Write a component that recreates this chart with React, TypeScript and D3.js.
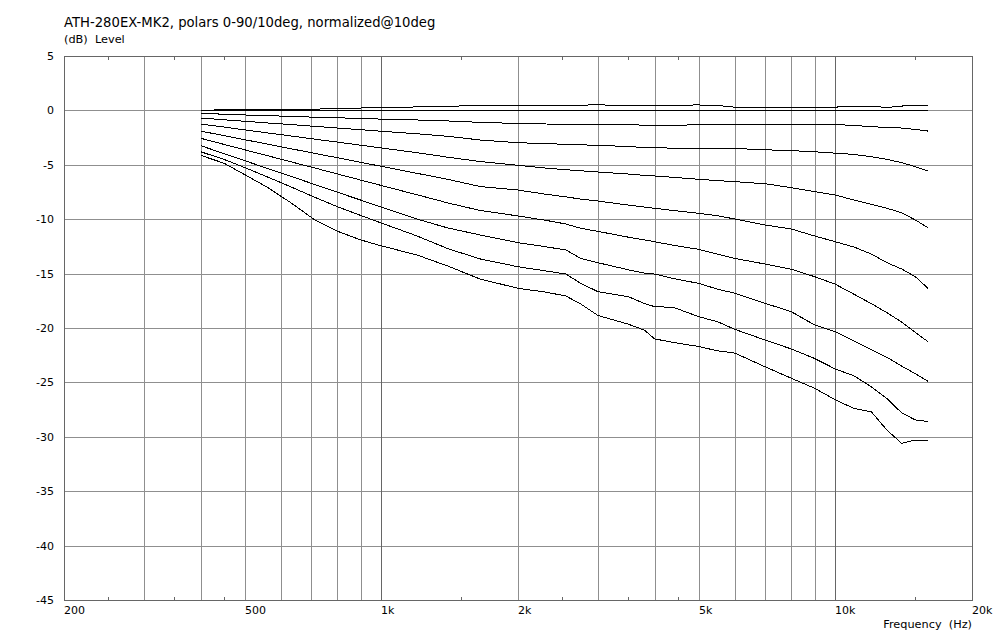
import React from 'react';
import * as d3 from 'd3';

// Frequencies (Hz) at which the curves were read
const freqs = [400, 450, 500, 560, 630, 710, 800, 900, 1000, 1200, 1400, 1650, 2000, 2300, 2550, 2750, 3000, 3500, 3800, 4000, 4400, 5000, 5500, 6000, 7000, 8000, 9000, 10000, 11000, 12000, 13000, 14000, 15000, 16000];

// Levels (dB) per polar angle, normalized at 10deg
const deg0 = [0.03, 0.04, 0.05, 0.06, 0.08, 0.1, 0.2, 0.22, 0.25, 0.32, 0.38, 0.45, 0.46, 0.47, 0.47, 0.48, 0.52, 0.42, 0.47, 0.47, 0.48, 0.5, 0.45, 0.3, 0.28, 0.28, 0.28, 0.3, 0.4, 0.4, 0.26, 0.4, 0.47, 0.47];
const deg10 = [0, 0, 0, 0, 0, 0, 0, 0, 0, 0, 0, 0, 0, 0, 0, 0, 0, 0, 0, 0, 0, 0, 0, 0, 0, 0, 0, 0, 0, 0, 0, 0, 0, 0];
const deg20 = [-0.27, -0.35, -0.42, -0.48, -0.55, -0.62, -0.68, -0.74, -0.8, -0.88, -0.97, -1.1, -1.2, -1.25, -1.28, -1.3, -1.3, -1.33, -1.35, -1.37, -1.37, -1.32, -1.28, -1.27, -1.27, -1.27, -1.28, -1.3, -1.38, -1.5, -1.56, -1.62, -1.75, -1.9];
const deg30 = [-0.7, -0.86, -1.0, -1.15, -1.3, -1.46, -1.62, -1.77, -1.92, -2.15, -2.38, -2.72, -2.97, -3.05, -3.12, -3.17, -3.2, -3.33, -3.4, -3.43, -3.47, -3.48, -3.49, -3.5, -3.62, -3.7, -3.8, -3.93, -4.05, -4.26, -4.5, -4.8, -5.17, -5.57];
const deg40 = [-1.25, -1.53, -1.79, -2.06, -2.34, -2.63, -2.91, -3.2, -3.45, -3.89, -4.3, -4.7, -5.05, -5.3, -5.45, -5.55, -5.66, -5.85, -5.97, -6.03, -6.15, -6.33, -6.45, -6.55, -6.74, -7.1, -7.47, -7.78, -8.24, -8.63, -9.0, -9.4, -10.07, -10.78];
const deg50 = [-1.9, -2.32, -2.69, -3.09, -3.51, -3.93, -4.35, -4.77, -5.14, -5.79, -6.33, -7.0, -7.32, -7.7, -7.95, -8.15, -8.33, -8.7, -8.88, -9.0, -9.2, -9.46, -9.68, -9.98, -10.53, -10.9, -11.54, -12.07, -12.56, -13.2, -14.0, -14.58, -15.28, -16.35];
const deg60 = [-2.56, -3.12, -3.62, -4.15, -4.71, -5.27, -5.84, -6.4, -6.9, -7.76, -8.5, -9.2, -9.7, -10.1, -10.44, -10.84, -11.12, -11.65, -11.9, -12.07, -12.4, -12.77, -13.2, -13.6, -14.12, -14.6, -15.28, -15.98, -16.9, -17.76, -18.6, -19.45, -20.4, -21.26];
const deg70 = [-3.24, -3.97, -4.62, -5.32, -6.04, -6.78, -7.52, -8.24, -8.89, -10.0, -10.8, -11.45, -12.16, -12.53, -12.83, -13.6, -14.0, -14.65, -14.95, -15.04, -15.45, -15.9, -16.43, -16.8, -17.73, -18.5, -19.72, -20.34, -21.2, -22.0, -22.7, -23.5, -24.2, -24.9];
const deg80 = [-3.8, -4.5, -5.25, -6.1, -7.0, -7.95, -8.85, -9.65, -10.35, -11.55, -12.7, -13.65, -14.37, -14.75, -15.04, -15.9, -16.66, -17.12, -17.75, -18.04, -18.1, -18.96, -19.42, -20.12, -21.1, -21.93, -22.8, -23.77, -24.4, -25.4, -26.5, -27.8, -28.45, -28.6];
const deg90 = [-4.13, -4.85, -5.9, -7.05, -8.45, -10.0, -11.1, -11.9, -12.45, -13.3, -14.3, -15.5, -16.35, -16.7, -17.06, -17.8, -18.85, -19.65, -20.2, -21.0, -21.33, -21.7, -22.1, -22.3, -23.56, -24.62, -25.54, -26.6, -27.4, -27.7, -29.4, -30.6, -30.3, -30.3];

const yTickValues = [5, 0, -5, -10, -15, -20, -25, -30, -35, -40, -45];
const xGridValues = [300, 400, 500, 600, 700, 800, 900, 1000, 2000, 3000, 4000, 5000, 6000, 7000, 8000, 9000, 10000];
const xDecadeValues = [1000, 10000];
const xMinorTicks = [250, 350, 450, 1500, 2500, 3500, 4500, 15000];
const xTickLabelValues = [200, 500, 1000, 2000, 5000, 10000, 20000];
const xTickLabels = ['200', '500', '1k', '2k', '5k', '10k', '20k'];

const titleText = 'ATH-280EX-MK2, polars 0-90/10deg, normalized@10deg';
const yAxisLabel = '(dB)  Level';
const xAxisLabel = 'Frequency  (Hz)';

export default function App() {
  const W = 995;
  const H = 635;
  const x = d3.scaleLog().domain([200, 20000]).range([64, 972]);
  const y = d3.scaleLinear().domain([-45, 5]).range([600, 56]);
  const px = (v: number) => Math.round(x(v)) + 0.5;
  const py = (v: number) => Math.round(y(v)) + 0.5;
  const series = [deg0, deg10, deg20, deg30, deg40, deg50, deg60, deg70, deg80, deg90];
  const line = d3
    .line<number>()
    .x((_d, i) => x(freqs[i]))
    .y((d) => y(d));
  const font = "'DejaVu Sans', Verdana, sans-serif";
  const gridColor = '#8f8f8f';
  const darkColor = '#666666';
  const top = py(5);
  const bottom = py(-45);
  const left = px(200);
  const right = px(20000);

  return (
    <svg
      width={W}
      height={H}
      viewBox={`0 0 ${W} ${H}`}
      style={{ position: 'absolute', left: 0, top: 0, background: '#fff' }}
    >
      <rect x={0} y={0} width={W} height={H} fill="#fff" />
      {/* horizontal grid */}
      <g shapeRendering="crispEdges">
        {yTickValues
          .filter((v) => v < 5 && v > -45)
          .map((v) => (
            <line key={'h' + v} x1={left} x2={right} y1={py(v)} y2={py(v)} stroke={gridColor} strokeWidth={1} />
          ))}
        {xGridValues.map((v) => (
          <line
            key={'v' + v}
            x1={px(v)}
            x2={px(v)}
            y1={top}
            y2={bottom}
            stroke={xDecadeValues.includes(v) ? darkColor : gridColor}
            strokeWidth={1}
          />
        ))}
        {xMinorTicks.map((v) => (
          <g key={'m' + v}>
            <line x1={px(v)} x2={px(v)} y1={bottom} y2={bottom - 3.5} stroke={darkColor} strokeWidth={1} />
            <line x1={px(v)} x2={px(v)} y1={top} y2={top + 3.5} stroke={darkColor} strokeWidth={1} />
          </g>
        ))}
        <rect x={left} y={top} width={right - left} height={bottom - top} fill="none" stroke={darkColor} strokeWidth={1} />
      </g>
      {/* curves */}
      <g fill="none" stroke="#000" strokeWidth={1} shapeRendering="crispEdges">
        {series.map((s, i) => (
          <path key={'s' + i} d={line(s) || ''} />
        ))}
      </g>
      {/* texts */}
      <g fontFamily={font} fill="#000">
        <text x={64} y={27} fontSize={13.2} style={{ whiteSpace: 'pre' }}>
          {titleText}
        </text>
        <text x={64} y={43} fontSize={11.3} style={{ whiteSpace: 'pre' }}>
          {yAxisLabel}
        </text>
        {yTickValues.map((v) => (
          <text key={'yl' + v} x={54} y={Math.round(y(v)) + 4} fontSize={11} textAnchor="end">
            {String(v)}
          </text>
        ))}
        {xTickLabelValues.map((v, i) => (
          <text key={'xl' + v} x={Math.round(x(v))} y={614} fontSize={11}>
            {xTickLabels[i]}
          </text>
        ))}
        <text x={972} y={628} fontSize={11.3} textAnchor="end" style={{ whiteSpace: 'pre' }}>
          {xAxisLabel}
        </text>
      </g>
    </svg>
  );
}
